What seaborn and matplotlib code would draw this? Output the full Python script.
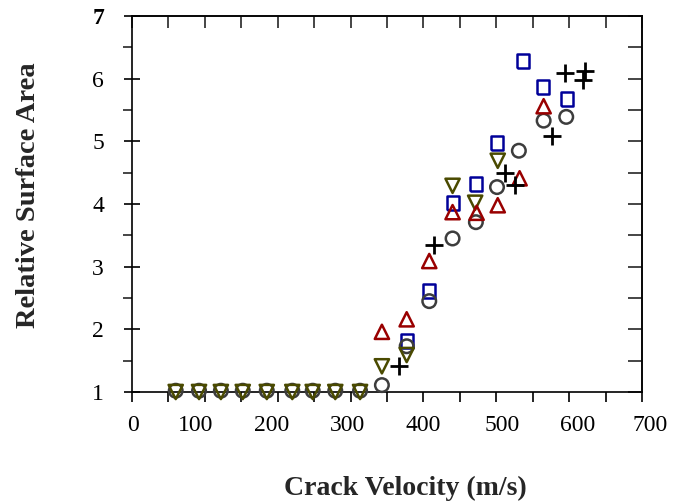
import numpy as np
import pandas as pd
import matplotlib
matplotlib.use("Agg")
import matplotlib.pyplot as plt
from matplotlib.transforms import ScaledTranslation
import seaborn as sns

# ---- data ----
circ_x = [60, 92, 122, 152, 185, 220, 248, 279, 313, 343, 377, 408, 440, 472, 501, 531, 565, 596]
circ_y = [1.02, 1.02, 1.02, 1.02, 1.02, 1.02, 1.02, 1.02, 1.02, 1.11, 1.73, 2.45, 3.45, 3.71, 4.27, 4.85, 5.33, 5.39]

tdown_x = [60, 92, 122, 152, 185, 220, 248, 279, 313, 343, 377, 440, 471, 502]
tdown_y = [1.0, 1.0, 1.0, 1.0, 1.0, 1.0, 1.0, 1.0, 1.0, 1.41, 1.59, 4.29, 4.02, 4.69]

tup_x = [343, 377, 408, 440, 473, 502, 532, 565]
tup_y = [1.96, 2.16, 3.09, 3.87, 3.86, 3.98, 4.41, 5.56]

sq_x = [377, 408, 441, 472, 501, 537, 564, 597]
sq_y = [1.81, 2.61, 4.02, 4.32, 4.97, 6.28, 5.87, 5.67]

plus_x = [366, 415, 512, 526, 576, 594, 622, 619]
plus_y = [1.41, 3.35, 4.49, 4.30, 5.09, 6.09, 6.12, 5.98]

x_ticklabels = ["0", "100", "200", "300", "400", "500", "600", "700"]
y_ticklabels = ["1", "2", "3", "4", "5", "6", "7"]
x_label = "Crack Velocity (m/s)"
y_label = "Relative Surface Area"

# ---- style ----
sns.set_theme(style="white")
plt.rcParams["font.family"] = ["Liberation Serif", "DejaVu Serif"]

fig = plt.figure(figsize=(6.75, 5.01), dpi=100)
W, H = 675, 501
ax = fig.add_axes([132 / W, (H - 392) / H, (642 - 132) / W, (392 - 16) / H])

rect = [(-0.42, -0.5), (0.42, -0.5), (0.42, 0.5), (-0.42, 0.5), (-0.42, -0.5)]

common = dict(ax=ax, zorder=3, clip_on=False)
sns.scatterplot(x=sq_x, y=sq_y, marker=rect, s=100, facecolor="none",
                edgecolor="#000099", linewidth=1.8, **common)
sns.scatterplot(x=circ_x, y=circ_y, marker="o", s=95, facecolor="none",
                edgecolor="#3d3d3d", linewidth=1.8, **common)
sns.scatterplot(x=tdown_x, y=tdown_y, marker="v", s=105, facecolor="none",
                edgecolor="#4a4a00", linewidth=1.8, **common)
sns.scatterplot(x=tup_x, y=tup_y, marker="^", s=105, facecolor="none",
                edgecolor="#990000", linewidth=1.8, **common)
sns.scatterplot(x=plus_x, y=plus_y, marker="+", s=170, color="black",
                linewidth=2.0, ax=ax, zorder=4, clip_on=False)

ax.set_xlim(0, 700)
ax.set_ylim(1, 7)
ax.set_xlabel("")
ax.set_ylabel("")

for sp in ax.spines.values():
    sp.set_visible(True)
    sp.set_color("black")
    sp.set_linewidth(1.2)

# x ticks (bottom: out, every 50)
ax.set_xticks(np.arange(0, 701, 100))
ax.set_xticklabels(x_ticklabels, fontsize=17)
ax.set_xticks(np.arange(50, 701, 100), minor=True)
ax.tick_params(axis="x", which="both", direction="out", length=7, width=1.2,
               bottom=True, top=False, pad=9.5, colors="black")

# y ticks (left: major inout, minor out)
ax.set_yticks(np.arange(1, 7.01, 1))
ax.set_yticklabels(y_ticklabels, fontsize=17)
ax.set_yticks(np.arange(1.5, 7, 1), minor=True)
ax.tick_params(axis="y", which="major", direction="inout", length=11.5, width=1.2,
               left=True, right=False, pad=14.4, colors="black")
ax.tick_params(axis="y", which="minor", direction="out", length=6.5, width=1.2,
               left=True, right=False)
ax.get_yticklabels()[-1].set_fontweight("bold")

# top and right inward ticks
top = ax.secondary_xaxis("top")
top.set_xticks(np.arange(0, 701, 50))
top.set_xticklabels([])
top.tick_params(direction="in", length=8.6, width=1.2)
top.spines["top"].set_linewidth(1.2)

right = ax.secondary_yaxis("right")
right.set_yticks(np.arange(1, 7.01, 0.5))
right.set_yticklabels([])
right.tick_params(direction="in", length=10, width=1.2)
right.spines["right"].set_linewidth(1.2)

# small offsets of x tick labels as in the reference
offsets_px = [1, -9, -6, -3, 0, 6, 8, 8]
for tick, dx in zip(ax.xaxis.get_major_ticks(), offsets_px):
    tick.label1.set_transform(tick.label1.get_transform()
                              + ScaledTranslation(dx / 100, 0, fig.dpi_scale_trans))

fig.text(405 / W, 1 - 488 / H, x_label, ha="center", va="center",
         fontsize=20, fontweight="bold")
fig.text(28.5 / W, 1 - 195 / H, y_label, ha="center", va="center",
         rotation=90, fontsize=20.5, fontweight="bold")

fig.savefig("out.png", dpi=100)
